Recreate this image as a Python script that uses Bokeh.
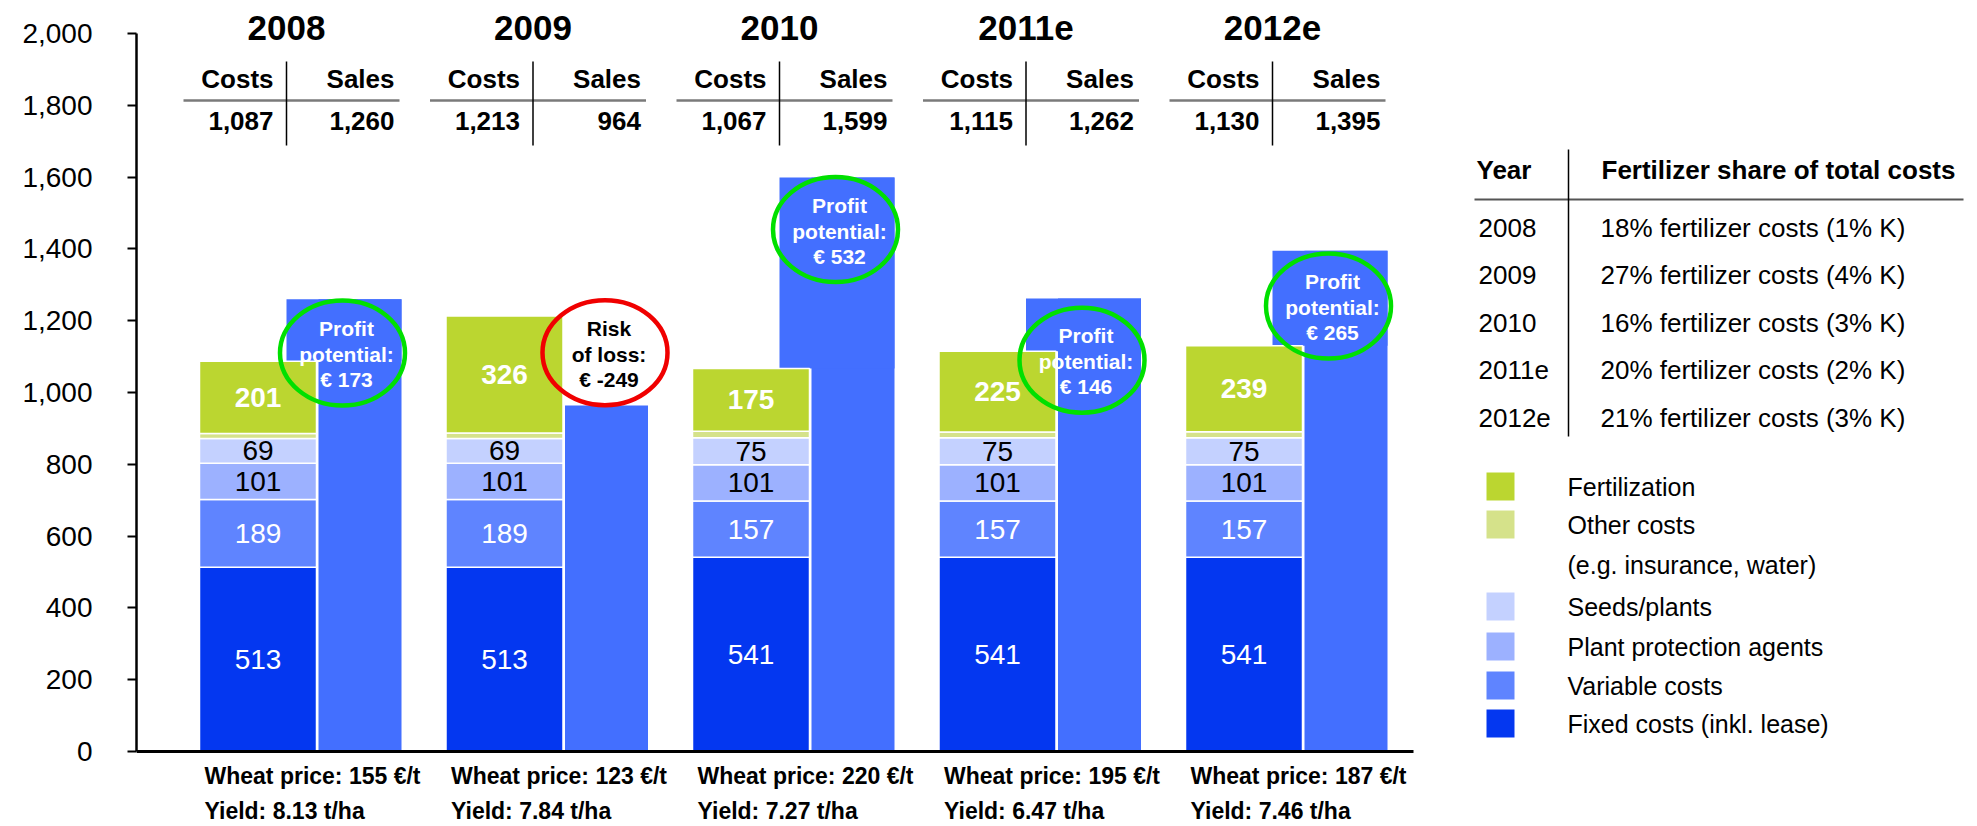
import numpy as np
from bokeh.plotting import figure
from bokeh.models import Range1d, FixedTicker, NumeralTickFormatter, ColumnDataSource
from bokeh.embed import file_html
from bokeh.resources import INLINE
from bokeh.core.properties import value

# ---------------- data ----------------
years = ["2008", "2009", "2010", "2011e", "2012e"]
fixed_costs = [513, 513, 541, 541, 541]
variable_costs = [189, 189, 157, 157, 157]
plant_protection = [101, 101, 101, 101, 101]
seeds_plants = [69, 69, 75, 75, 75]
other_costs = [14, 15, 18, 16, 17]
fertilization = [201, 326, 175, 225, 239]
total_costs = [1087, 1213, 1067, 1115, 1130]
sales = [1260, 964, 1599, 1262, 1395]
result = [173, -249, 532, 146, 265]
wheat_price = [155, 123, 220, 195, 187]
yield_t_ha = [8.13, 7.84, 7.27, 6.47, 7.46]
fert_share_pct = [18, 27, 16, 20, 21]
potash_share_pct = [1, 4, 3, 2, 3]
y_ticks = [0, 200, 400, 600, 800, 1000, 1200, 1400, 1600, 1800, 2000]
legend_labels = ["Fertilization", "Other costs", "(e.g. insurance, water)", "Seeds/plants",
                 "Plant protection agents", "Variable costs", "Fixed costs (inkl. lease)"]

# ---------------- styles / layout ----------------
FONT = value("Liberation Sans")
C_FIXED = "#0437F0"
C_VAR = "#5F84FF"
C_PLANT = "#9CB1FF"
C_SEEDS = "#C4D1FF"
C_OTHER = "#D5E28A"
C_FERT = "#BBD630"
C_SALES = "#436FFF"
C_GOOD = "#00E000"
C_BAD = "#F00000"

W, H = 1977, 826
AXIS_SX = 136
ZERO_SY = 751.0        # pixel y of value 0
PX_PER_UNIT = 0.359    # pixels per value unit
GROUP_PX = 246.5       # pixels between groups
DIV0_SX = 286.0        # pixel x of first group's divider


def dx(sx):
    return (sx - DIV0_SX) / GROUP_PX


def dy(sy):
    return (ZERO_SY - sy) / PX_PER_UNIT


def ddx(px):
    return px / GROUP_PX


def ddy(px):
    return px / PX_PER_UNIT


p = figure(width=W, height=H, output_backend="svg", toolbar_location=None,
           x_range=Range1d(dx(AXIS_SX), dx(W)), y_range=Range1d(dy(H), dy(0)),
           x_axis_location=None, min_border_left=AXIS_SX, min_border_right=0,
           min_border_top=0, min_border_bottom=0)
p.outline_line_color = None
p.grid.visible = False
p.background_fill_color = "white"
p.border_fill_color = "white"

ax = p.yaxis[0]
ax.ticker = FixedTicker(ticks=y_ticks)
ax.formatter = NumeralTickFormatter(format="0,0")
ax.bounds = (0, 2000)
ax.axis_line_width = 2.5
ax.axis_line_color = "black"
ax.major_tick_line_width = 2
ax.major_tick_line_color = "black"
ax.major_tick_out = 9
ax.major_tick_in = 0
ax.minor_tick_line_color = None
ax.major_label_standoff = 35
ax.major_label_text_font = "Liberation Sans"
ax.major_label_text_font_size = "28px"
ax.major_label_text_color = "black"

idx = np.arange(len(years), dtype=float)
cost_w = ddx(117)
cost_x = idx + ddx(-87 + 58.5)
sales_w = ddx(83)
sales_x = idx + ddx(32 + 41.5)

# sales bars
p.vbar(x=sales_x, top=sales, bottom=0, width=sales_w, fill_color=C_SALES, line_color=None)

# callout backing boxes (profit years)
prof = [i for i in range(len(years)) if result[i] > 0]
p.quad(left=[idx[i] for i in prof], right=[sales_x[i] + sales_w / 2 for i in prof],
       top=[sales[i] for i in prof], bottom=[total_costs[i] for i in prof],
       fill_color=C_SALES, line_color=None)

# cost stacks
stack_names = ["fixed", "variable", "plant", "seeds", "other", "fert"]
src = ColumnDataSource(dict(x=cost_x, fixed=fixed_costs, variable=variable_costs,
                            plant=plant_protection, seeds=seeds_plants,
                            other=other_costs, fert=fertilization))
p.vbar_stack(stack_names, x="x", width=cost_w, source=src,
             color=[C_FIXED, C_VAR, C_PLANT, C_SEEDS, C_OTHER, C_FERT],
             line_color="white", line_width=1.5)

# segment labels
series = [fixed_costs, variable_costs, plant_protection, seeds_plants, other_costs, fertilization]
seg_colors = ["white", "white", "black", "black", None, "white"]
seg_styles = ["normal", "normal", "normal", "normal", None, "bold"]
base = np.zeros(len(years))
for s, col, sty in zip(series, seg_colors, seg_styles):
    s = np.array(s, dtype=float)
    mid = base + s / 2
    if col is not None:
        p.text(x=cost_x, y=mid, text=[str(int(v)) for v in s], text_align="center",
               text_baseline="middle", text_font=FONT, text_font_size="28px",
               text_font_style=sty, text_color=col)
    base = base + s

# callouts (ellipse + text)
callout_dx_px = [56, 72, 56, 56, 56]
callout_y = [1110, 1111, 1454, 1090, 1241]
ex = [idx[i] + ddx(callout_dx_px[i]) for i in range(len(years))]
ecol = [C_GOOD if r > 0 else C_BAD for r in result]
p.ellipse(x=ex, y=callout_y, width=125, height=105, width_units="screen", height_units="screen",
          fill_color=None, line_color=ecol, line_width=4.5)
for i, r in enumerate(result):
    lines = ["Profit", "potential:", f"€ {r}"] if r > 0 else ["Risk", "of loss:", f"€ {r}"]
    tcol = "white" if r > 0 else "black"
    ys = [callout_y[i] - ddy(-24.5), callout_y[i] - ddy(1.5), callout_y[i] - ddy(26.5)]
    p.text(x=[ex[i] + ddx(4)] * 3, y=ys, text=lines, text_align="center", text_baseline="middle",
           text_font=FONT, text_font_size="21px", text_font_style="bold", text_color=tcol)

# baseline
p.segment(x0=[dx(AXIS_SX)], y0=[0], x1=[dx(1413)], y1=[0], line_color="black", line_width=3)

# top tables
p.text(x=idx, y=[dy(27)] * 5, text=years, text_align="center", text_baseline="middle",
       text_font=FONT, text_font_size="35px", text_font_style="bold", text_color="black")
p.text(x=idx - ddx(13), y=[dy(78)] * 5, text=["Costs"] * 5, text_align="right", text_baseline="middle",
       text_font=FONT, text_font_size="26px", text_font_style="bold", text_color="black")
p.text(x=idx + ddx(108), y=[dy(78)] * 5, text=["Sales"] * 5, text_align="right", text_baseline="middle",
       text_font=FONT, text_font_size="26px", text_font_style="bold", text_color="black")
p.text(x=idx - ddx(13), y=[dy(120)] * 5, text=[f"{v:,}" for v in total_costs], text_align="right",
       text_baseline="middle", text_font=FONT, text_font_size="26px", text_font_style="bold",
       text_color="black")
p.text(x=idx + ddx(108), y=[dy(120)] * 5, text=[f"{v:,}" for v in sales], text_align="right",
       text_baseline="middle", text_font=FONT, text_font_size="26px", text_font_style="bold",
       text_color="black")
p.segment(x0=idx - ddx(103), y0=[dy(100)] * 5, x1=idx + ddx(113), y1=[dy(100)] * 5,
          line_color="#7a7a7a", line_width=2.5)
p.segment(x0=idx, y0=[dy(61)] * 5, x1=idx, y1=[dy(145)] * 5, line_color="black", line_width=1.5)

# bottom texts
left_x = cost_x - cost_w / 2 + ddx(5)
p.text(x=left_x, y=[dy(775)] * 5, text=[f"Wheat price: {v} €/t" for v in wheat_price],
       text_align="left", text_baseline="middle", text_font=FONT, text_font_size="23px",
       text_font_style="bold", text_color="black")
p.text(x=left_x, y=[dy(810)] * 5, text=[f"Yield: {v:.2f} t/ha" for v in yield_t_ha],
       text_align="left", text_baseline="middle", text_font=FONT, text_font_size="23px",
       text_font_style="bold", text_color="black")

# right table
row_sy = [227, 274, 322, 369, 417]
p.text(x=[dx(1476), dx(1601)], y=[dy(169)] * 2, text=["Year", "Fertilizer share of total costs"],
       text_align="left", text_baseline="middle", text_font=FONT, text_font_size="26px",
       text_font_style="bold", text_color="black")
p.text(x=[dx(1478)] * 5, y=[dy(s) for s in row_sy], text=years, text_align="left",
       text_baseline="middle", text_font=FONT, text_font_size="26px", text_color="black")
p.text(x=[dx(1600)] * 5, y=[dy(s) for s in row_sy],
       text=[f"{a}% fertilizer costs ({b}% K)" for a, b in zip(fert_share_pct, potash_share_pct)],
       text_align="left", text_baseline="middle", text_font=FONT, text_font_size="26px",
       text_color="black")
p.segment(x0=[dx(1474)], y0=[dy(199)], x1=[dx(1963)], y1=[dy(199)], line_color="#555555", line_width=2)
p.segment(x0=[dx(1568)], y0=[dy(149)], x1=[dx(1568)], y1=[dy(436)], line_color="black", line_width=1.5)

# legend
leg_sy = [486, 524, 564, 606, 646, 685, 723]
leg_col = [C_FERT, C_OTHER, None, C_SEEDS, C_PLANT, C_VAR, C_FIXED]
sw = [(dy(s), c) for s, c in zip(leg_sy, leg_col) if c is not None]
p.scatter(x=[dx(1500)] * len(sw), y=[a for a, _ in sw], marker="square", size=28,
          fill_color=[c for _, c in sw], line_color=None)
p.text(x=[dx(1567)] * len(legend_labels), y=[dy(s) for s in leg_sy], text=legend_labels,
       text_align="left", text_baseline="middle", text_font=FONT, text_font_size="25px",
       text_color="black")

open("out.html", "w").write(file_html(p, INLINE))
